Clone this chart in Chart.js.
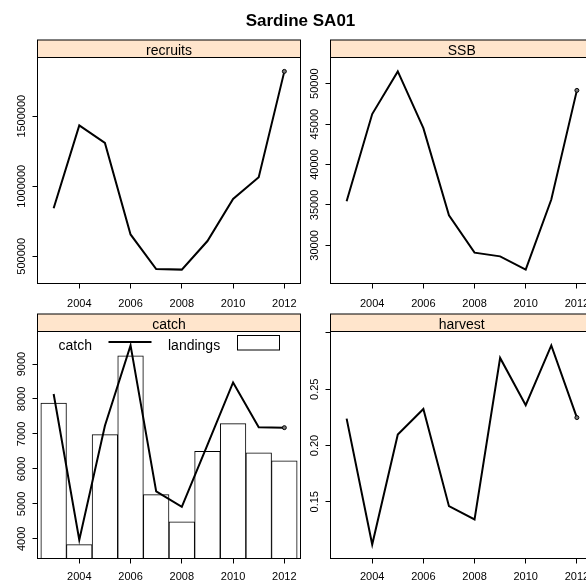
<!DOCTYPE html>
<html>
<head>
<meta charset="utf-8">
<script src="https://cdn.jsdelivr.net/npm/chart.js@4"></script>
<style>
  body { margin: 0; background: #fff; overflow: hidden; }
  #wrap { position: relative; width: 586px; height: 585px; overflow: hidden; }
  canvas { position: absolute; left: 0; top: 0; }
</style>
</head>
<body>
<div id="wrap">
  <canvas id="recruits" width="600" height="585"></canvas>
  <canvas id="ssb" width="600" height="585"></canvas>
  <canvas id="catch" width="600" height="585"></canvas>
  <canvas id="harvest" width="600" height="585"></canvas>
</div>
<script>
const title = "Sardine SA01";
const years = [2003, 2004, 2005, 2006, 2007, 2008, 2009, 2010, 2011, 2012];
const yearTicks = [2004, 2006, 2008, 2010, 2012];
const yearLabels = ["2004", "2006", "2008", "2010", "2012"];

const recruits = [843000, 1434000, 1309000, 656000, 409500, 405000, 609000, 910000, 1064000, 1820000];
const recruitsTicks = [500000, 1000000, 1500000];
const recruitsLabels = ["500000", "1000000", "1500000"];

const ssb = [35460, 46240, 51520, 44500, 33720, 29100, 28640, 27000, 35670, 49170];
const ssbTicks = [30000, 35000, 40000, 45000, 50000];
const ssbLabels = ["30000", "35000", "40000", "45000", "50000"];

const catches = [8143, 3970, 7237, 9531, 5360, 4914, 6690, 8474, 7189, 7180];
const landings = [7886, 3837, 6980, 9237, 5266, 4486, 6503, 7294, 6457, 6229];
const catchTicks = [4000, 5000, 6000, 7000, 8000, 9000];
const catchLabels = ["4000", "5000", "6000", "7000", "8000", "9000"];
const legendLabels = ["catch", "landings"];

const harvest = [0.2239, 0.112, 0.2098, 0.2325, 0.1461, 0.1343, 0.2778, 0.2358, 0.2889, 0.2248];
const harvestTicks = [0.15, 0.20, 0.25, 0.30];
const harvestLabels = ["0.15", "0.20", "0.25", ""];

const FONT = '"Liberation Sans", Arial, Helvetica, sans-serif';
Chart.defaults.font.family = FONT;
Chart.defaults.color = "#000";

// lattice pads each axis by 7% of the data range
const padRange = (...arrs) => {
    const all = [].concat(...arrs);
    const lo = Math.min(...all), hi = Math.max(...all);
    const d = (hi - lo) * 0.07;
    return [lo - d, hi + d];
};
const xy = arr => years.map((x, i) => ({x: x, y: arr[i]}));

const panelPlugin = {
    id: "panel",
    afterDraw(chart, args, opts) {
        const ctx = chart.ctx;
        const a = chart.chartArea;
        const ys = chart.scales.y;
        const w = a.right - a.left;
        ctx.save();
        ctx.lineWidth = 1;
        ctx.strokeStyle = "#000";

        // strip
        ctx.fillStyle = "#FFE5CC";
        ctx.fillRect(a.left, a.top - 17.5, w, 17.5);
        ctx.strokeRect(a.left, a.top - 17.5, w, 17.5);
        ctx.fillStyle = "#000";
        ctx.font = "14px " + FONT;
        ctx.textAlign = "center";
        ctx.textBaseline = "alphabetic";
        ctx.fillText(opts.strip, (a.left + a.right) / 2, a.top - 2.5);

        // panel box
        ctx.strokeRect(a.left, a.top, w, a.bottom - a.top);

        // vertical y labels
        ctx.font = "11px " + FONT;
        ctx.textBaseline = "middle";
        opts.yTicks.forEach((v, i) => {
            ctx.save();
            ctx.translate(a.left - 15.5, ys.getPixelForValue(v));
            ctx.rotate(-Math.PI / 2);
            ctx.fillText(opts.yLabels[i], 0, 0);
            ctx.restore();
        });

        if (opts.legend) {
            ctx.font = "14px " + FONT;
            ctx.textAlign = "left";
            ctx.textBaseline = "alphabetic";
            ctx.fillText(opts.legend[0], a.left + 21, 350);
            ctx.lineWidth = 2;
            ctx.beginPath();
            ctx.moveTo(a.left + 71, 342);
            ctx.lineTo(a.left + 114, 342);
            ctx.stroke();
            ctx.fillText(opts.legend[1], a.left + 130.5, 350);
            ctx.lineWidth = 1;
            ctx.fillStyle = "#fff";
            ctx.fillRect(237.5, 335.5, 42, 14.5);
            ctx.strokeRect(237.5, 335.5, 42, 14.5);
        }

        if (opts.title) {
            ctx.fillStyle = "#000";
            ctx.font = "bold 17px " + FONT;
            ctx.textAlign = "center";
            ctx.textBaseline = "alphabetic";
            ctx.fillText(opts.title, 300.5, 25.5);
        }
        ctx.restore();
    }
};

const lineSet = arr => ({
    type: "line",
    data: xy(arr),
    borderColor: "#000",
    borderWidth: 2,
    tension: 0,
    pointRadius: c => c.dataIndex === years.length - 1 ? 2 : 0,
    pointBackgroundColor: "#777",
    pointBorderColor: "#000",
    pointBorderWidth: 1,
    order: 0
});

const makePanel = (id, box, datasets, yRange, yTicks, yLabels, extra, labelPad) => {
    const [yMin, yMax] = yRange;
    new Chart(document.getElementById(id).getContext("2d"), {
        type: "line",
        data: {datasets: datasets},
        options: {
            responsive: false,
            animation: false,
            devicePixelRatio: 1,
            events: [],
            layout: {
                padding: {left: box.left - 10, top: box.top, right: 600 - box.right, bottom: 585 - box.bottom - 26}
            },
            scales: {
                x: {
                    type: "linear",
                    offset: false,
                    min: 2002.37,
                    max: 2012.63,
                    afterBuildTicks: s => { s.ticks = yearTicks.map(v => ({value: v})); },
                    afterFit: s => { s.height = 26; },
                    ticks: {
                        callback: (v, i) => yearLabels[i],
                        font: {size: 11},
                        color: "#000",
                        padding: labelPad,
                        maxRotation: 0,
                        autoSkip: false
                    },
                    grid: {offset: false, drawOnChartArea: false, drawTicks: true, tickLength: 5, color: "#000"},
                    border: {display: false}
                },
                y: {
                    type: "linear",
                    min: yMin,
                    max: yMax,
                    afterBuildTicks: s => { s.ticks = yTicks.map(v => ({value: v})); },
                    afterFit: s => { s.width = 10; },
                    ticks: {display: false},
                    grid: {drawOnChartArea: false, drawTicks: true, tickLength: 5, color: "#000"},
                    border: {display: false}
                }
            },
            plugins: {
                legend: {display: false},
                tooltip: {enabled: false},
                panel: Object.assign({yTicks: yTicks, yLabels: yLabels}, extra)
            }
        },
        plugins: [panelPlugin]
    });
};

makePanel("recruits", {left: 37.5, top: 57.5, right: 300.5, bottom: 283.5},
    [lineSet(recruits)], padRange(recruits), recruitsTicks, recruitsLabels,
    {strip: "recruits", title: title}, 8.4);

makePanel("ssb", {left: 330.5, top: 57.5, right: 593, bottom: 283.5},
    [lineSet(ssb)], padRange(ssb), ssbTicks, ssbLabels,
    {strip: "SSB"}, 8.4);

makePanel("catch", {left: 37.5, top: 331.5, right: 300.5, bottom: 558.5},
    [lineSet(catches), {
        type: "bar",
        data: xy(landings),
        backgroundColor: "#fff",
        borderColor: "#000",
        borderWidth: 1,
        borderSkipped: false,
        barPercentage: 1,
        categoryPercentage: 1,
        clip: 0,
        order: 1
    }], padRange(catches, landings), catchTicks, catchLabels,
    {strip: "catch", legend: legendLabels}, 7.2);

makePanel("harvest", {left: 330.5, top: 331.5, right: 593, bottom: 558.5},
    [lineSet(harvest)], padRange(harvest), harvestTicks, harvestLabels,
    {strip: "harvest"}, 7.2);
</script>
</body>
</html>
